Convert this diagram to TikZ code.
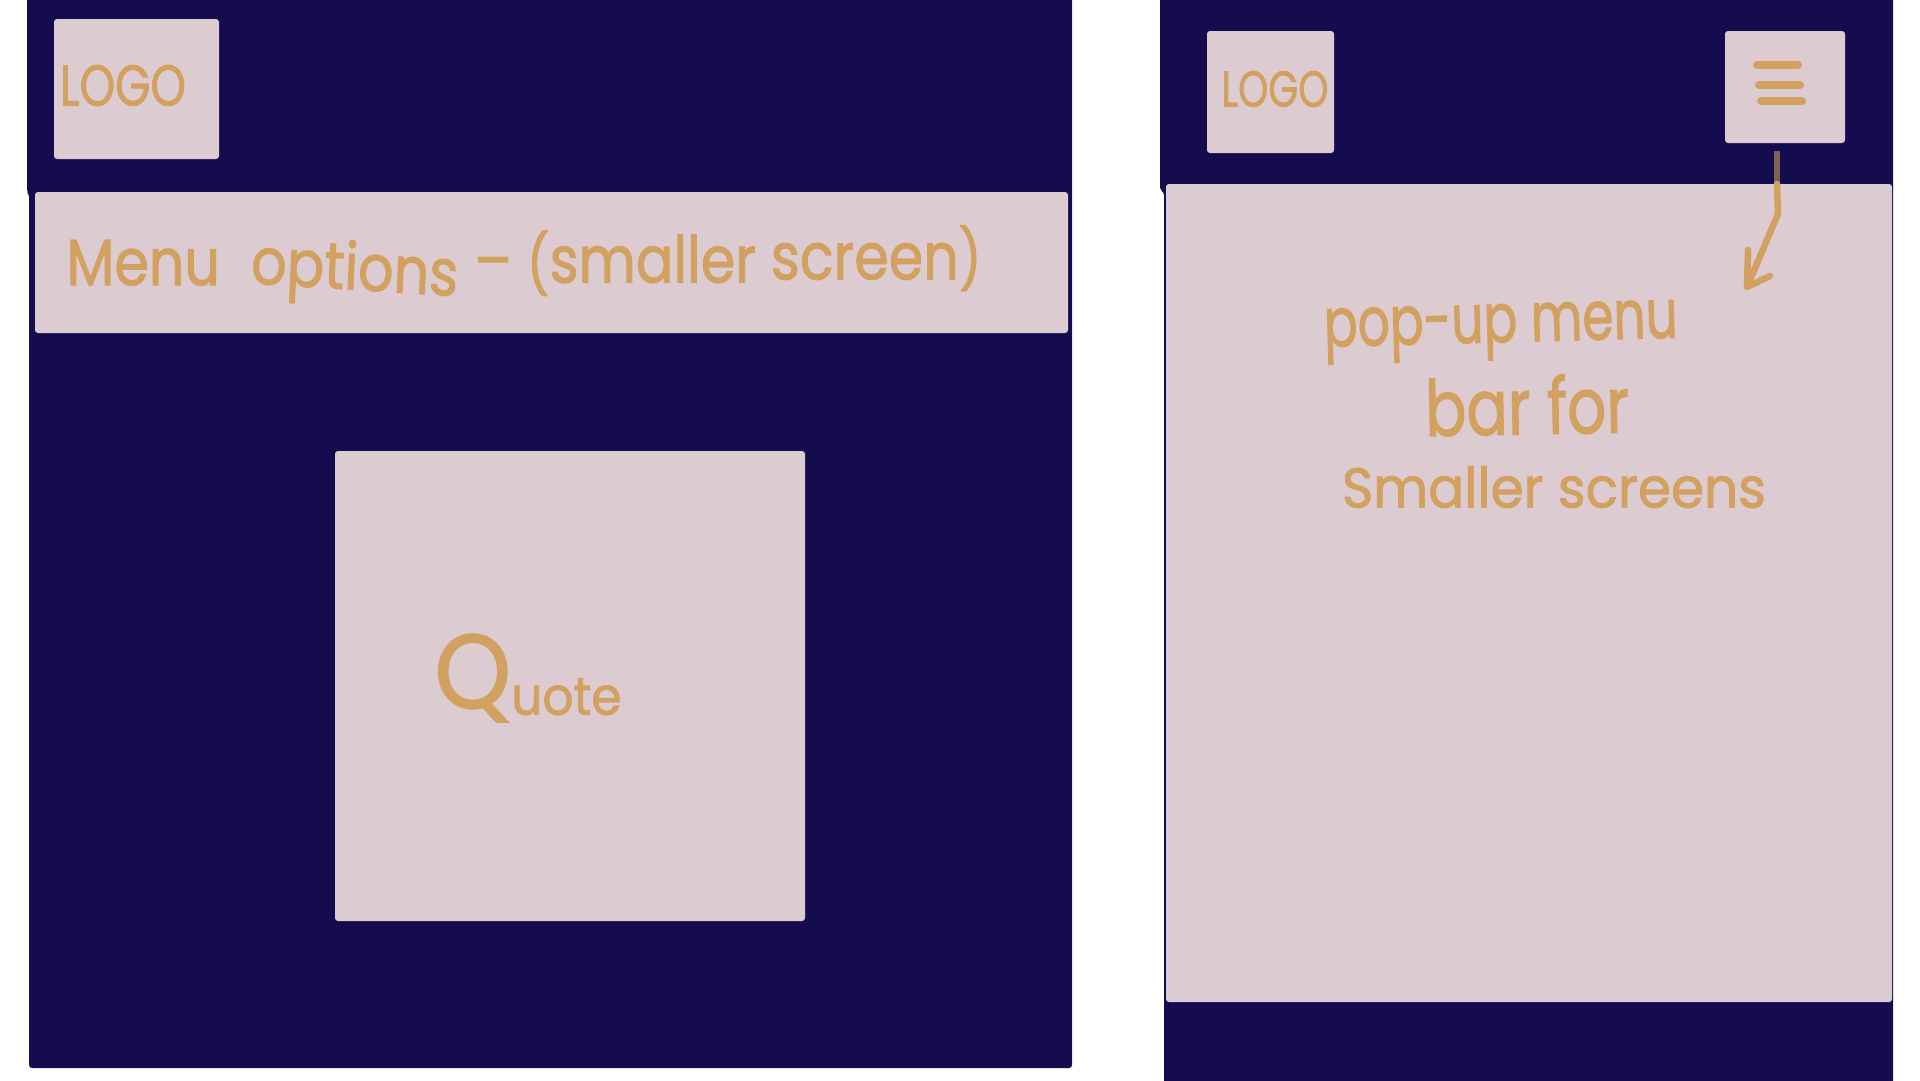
\documentclass[tikz,border=0pt]{standalone}
\usepackage{fontspec}
\usepackage{graphicx}
\setmainfont[FakeBold=1.6]{Poppins}
\definecolor{navy}{HTML}{150C50}
\definecolor{pinkpanel}{HTML}{DDCBD2}
\definecolor{ochre}{HTML}{D2A160}
\definecolor{ochredark}{HTML}{7E6257}
\newcommand{\hw}[3]{\resizebox*{#1pt}{#2pt}{\fontsize{40}{44}\selectfont #3}}
\newcommand{\up}[2]{\smash{\raisebox{#1}{#2}}}
\tikzset{
  x=1pt,y=-1pt,
  panel/.style={fill=pinkpanel,draw=none,rounded corners=3pt,anchor=north west,inner sep=0pt,outer sep=0pt},
  hand/.style={text=ochre,inner sep=0pt,outer sep=0pt,anchor=center},
  penline/.style={draw=ochre,line width=8pt,line cap=round,line join=round},
  arrowline/.style={draw=ochre,line width=6.5pt,line cap=round,line join=round},
}
\begin{document}
\begin{tikzpicture}
\useasboundingbox (0,0) rectangle (1920,1080);
\fill[white] (0,0) rectangle (1920,1080);
% dark backgrounds
\fill[navy,rounded corners=3pt] (27,-10) -- (1072,-10) -- (1072,1068) -- (29,1068) -- (29,194) -- (27,192) -- cycle;
\fill[navy,rounded corners=3pt] (1160,-10) -- (1893,-10) -- (1893,1090) -- (1164,1090) -- (1164,192) -- (1160,190) -- cycle;
% left panels
\node[panel,minimum width=165pt,minimum height=140pt] (logoA) at (54,19) {};
\node[panel,minimum width=1033pt,minimum height=141pt] (menubar) at (35,192) {};
\node[panel,minimum width=470pt,minimum height=470pt] (quotebox) at (335,451) {};
% right panels
\node[panel,minimum width=127pt,minimum height=122pt] (logoB) at (1207,31) {};
\node[panel,minimum width=120pt,minimum height=112pt] (burger) at (1725,31) {};
\node[panel,minimum width=726pt,minimum height=818pt] (popup) at (1166,184) {};
% handwritten labels
\node[hand] (logoAtext) at (123,85.5) {\hw{126}{41}{LOGO}};
\node[hand] (menutext) at (524,271) {\hw{915}{62}{\vphantom{Mp}Menu\ \ \up{1pt}{\rotatebox{-3}{options}} \up{1pt}{–} \up{0pt}{\fontsize{36}{36}\selectfont(}\up{1.5pt}{smaller} \up{3.5pt}{screen}\up{3pt}{\fontsize{36}{36}\selectfont)}}};
\node[hand] (quotetext) at (528,678) {\hw{187}{88}{{\fontsize{80}{80}\selectfont Q}\raisebox{-5pt}{uote}}};
\node[hand] (logoBtext) at (1275,89) {\hw{107}{36}{LOGO}};
\node[hand,rotate=1.5] (line1) at (1501,332) {\hw{354}{56}{pop-up menu}};
\node[hand,rotate=1] (line2) at (1527,405) {\hw{204}{60}{bar for}};
\node[hand] (line3) at (1554,487) {\hw{424}{42}{Smaller screens}};
% hamburger icon
\coordinate (b1a) at (1757,65); \coordinate (b1b) at (1798,65);
\coordinate (b2a) at (1759,85); \coordinate (b2b) at (1800,85);
\coordinate (b3a) at (1761,101); \coordinate (b3b) at (1802,101);
\draw[penline] (b1a) -- (b1b);
\draw[penline] (b2a) -- (b2b);
\draw[penline] (b3a) -- (b3b);
% arrow
\coordinate (arrowstart) at (1777,151);
\coordinate (arrowcross) at (1777,184);
\coordinate (arrowbend) at (1778,214);
\coordinate (arrowtip) at (1747,287);
\coordinate (barbone) at (1748,250);
\coordinate (barbtwo) at (1770,276);
\draw[arrowline,draw=ochredark,line cap=butt] (arrowstart) -- (arrowcross);
\draw[arrowline] (arrowcross) -- (arrowbend) -- (arrowtip);
\draw[arrowline] (barbone) -- (arrowtip) -- (barbtwo);
\end{tikzpicture}
\end{document}
